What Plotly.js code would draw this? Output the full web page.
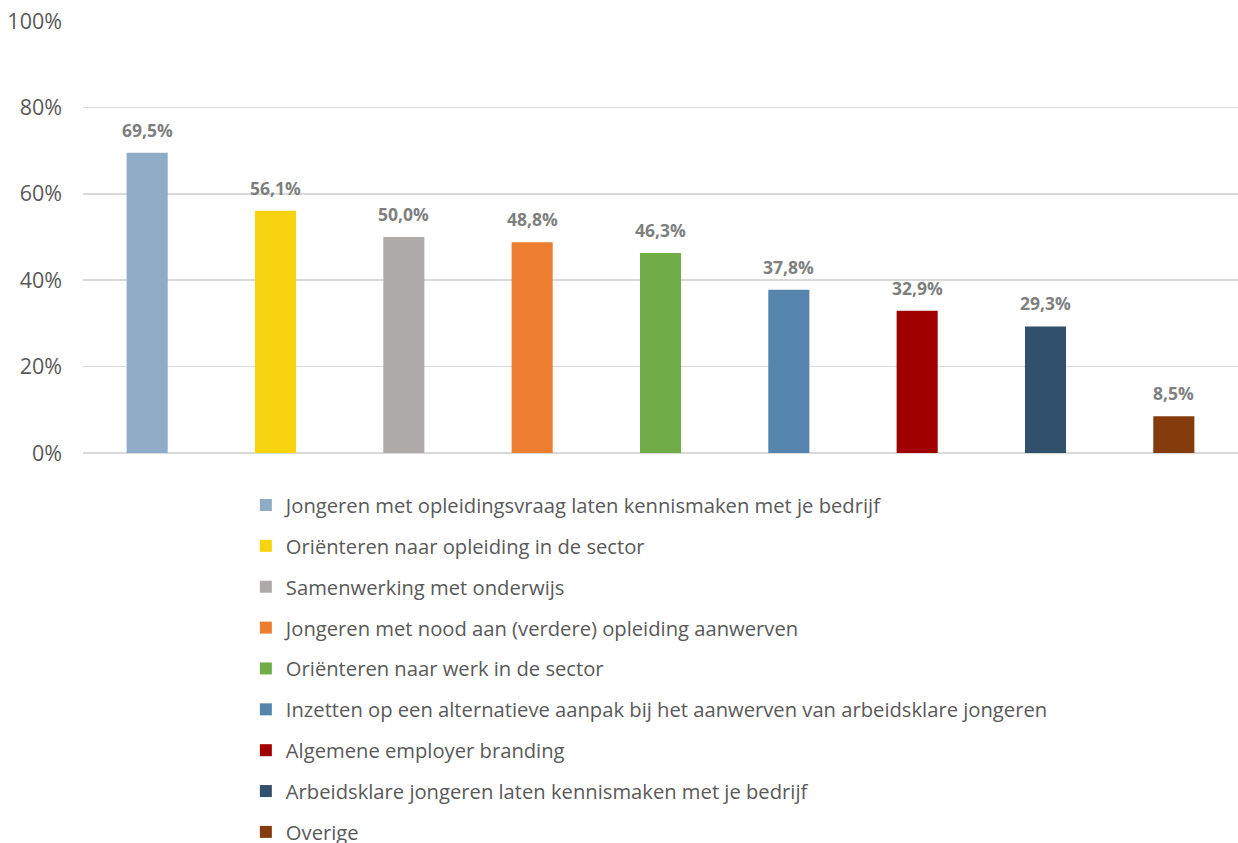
<!DOCTYPE html>
<html>
<head>
<meta charset="utf-8">
<script src="https://cdn.plot.ly/plotly-3.0.1.min.js"></script>
<style>
  html, body { margin: 0; padding: 0; background: #fff; }
  #chart { width: 1238px; height: 843px; }
</style>
</head>
<body>
<div id="chart"></div>
<script>
const categories = [
  "Jongeren met opleidingsvraag laten kennismaken met je bedrijf",
  "Oriënteren naar opleiding in de sector",
  "Samenwerking met onderwijs",
  "Jongeren met nood aan (verdere) opleiding aanwerven",
  "Oriënteren naar werk in de sector",
  "Inzetten op een alternatieve aanpak bij het aanwerven van arbeidsklare jongeren",
  "Algemene employer branding",
  "Arbeidsklare jongeren laten kennismaken met je bedrijf",
  "Overige"
];
const values = [69.5, 56.1, 50.0, 48.8, 46.3, 37.8, 32.9, 29.3, 8.5];
const colors = ["#8eacc6", "#f8d30f", "#aeaaaa", "#ed7d31", "#70ad47",
                "#5585ad", "#a10000", "#31506b", "#843c0c"];
const yTicks = [0, 20, 40, 60, 80, 100];
const yTickLabels = ["0%", "20%", "40%", "60%", "80%", "100%"];

const font = "'Open Sans', 'Noto Sans', sans-serif";

// one trace per category so every bar gets its own legend entry
const traces = categories.map((name, i) => ({
  type: "bar",
  name: name,
  legendgroup: "g" + i,
  x: [i],
  y: [values[i]],
  width: 0.32,
  marker: { color: colors[i] },
  hoverinfo: "skip"
}));

// value labels above the bars (annotations so they can sit a bit higher)
const labels = values.map((v, i) => ({
  x: i,
  y: v,
  xref: "x",
  yref: "y",
  text: v.toFixed(1).replace(".", ",") + "%",
  showarrow: false,
  yanchor: "bottom",
  yshift: 9,
  font: { family: font, size: 17.5, color: "#7f7f7f", weight: "bold" }
}));

const layout = {
  width: 1238,
  height: 843,
  margin: { l: 83, r: 0, t: 21, b: 390, autoexpand: false },
  paper_bgcolor: "#fff",
  plot_bgcolor: "#fff",
  barmode: "overlay",
  font: { family: font, color: "#595959" },
  annotations: labels,
  xaxis: {
    range: [-0.5, 8.5],
    showticklabels: false,
    showgrid: false,
    zeroline: false,
    showline: false,
    ticks: ""
  },
  yaxis: {
    range: [0, 100],
    tickmode: "array",
    tickvals: yTicks,
    ticktext: yTickLabels,
    tickfont: { family: font, size: 21.5, color: "#595959" },
    ticklabelstandoff: 20,
    gridcolor: "#d9d9d9",
    gridwidth: 1.5,
    zeroline: true,
    zerolinecolor: "#d9d9d9",
    zerolinewidth: 1.5,
    ticks: "",
    ticklen: 0,
    showline: false
  },
  showlegend: true,
  legend: {
    orientation: "v",
    x: 0.141,
    xanchor: "left",
    y: -0.075,
    yanchor: "top",
    traceorder: "grouped",
    tracegroupgap: 11.6,
    font: { family: font, size: 20.2, color: "#595959" },
    itemwidth: 30,
    bgcolor: "rgba(0,0,0,0)"
  }
};

Plotly.newPlot("chart", traces, layout, { displayModeBar: false, staticPlot: true });
</script>
</body>
</html>
